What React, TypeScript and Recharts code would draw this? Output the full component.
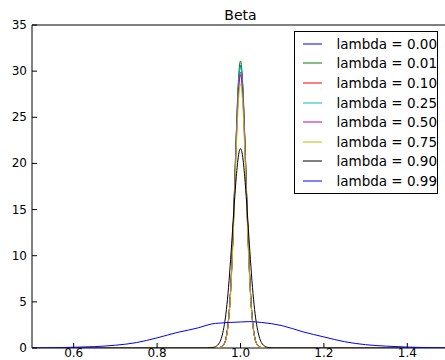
import React from 'react';
import { LineChart, Line, XAxis, YAxis, ReferenceArea, Legend } from 'recharts';

// shared x grid for the narrow densities
const NARROW_X = [
  0.5, 0.92, 0.925, 0.93, 0.935, 0.94, 0.945, 0.95, 0.955, 0.96, 0.965, 0.97, 0.975, 0.98, 0.985, 0.99, 0.995,
  1.0, 1.005, 1.01, 1.015, 1.02, 1.025, 1.03, 1.035, 1.04, 1.045, 1.05, 1.055, 1.06, 1.065, 1.07, 1.075, 1.08, 1.5,
];

const L000 = [0, 0, 0, 0, 0, 0.01, 0.03, 0.06, 0.13, 0.36, 0.98, 2.45, 5.2, 9.9, 16.2, 23.1, 28.5, 30.6, 28.6, 23.0, 16.1, 9.8, 5.2, 2.4, 0.97, 0.35, 0.12, 0.05, 0.02, 0.01, 0, 0, 0, 0, 0];
const L001 = [0, 0, 0, 0, 0, 0.01, 0.03, 0.05, 0.12, 0.35, 0.96, 2.45, 5.25, 10.0, 16.4, 23.4, 29.0, 31.1, 28.9, 23.3, 16.4, 10.0, 5.2, 2.4, 0.95, 0.34, 0.12, 0.05, 0.02, 0.01, 0, 0, 0, 0, 0];
const L010 = [0, 0, 0, 0, 0, 0.01, 0.03, 0.06, 0.13, 0.37, 1.0, 2.5, 5.2, 9.8, 15.9, 22.6, 27.9, 29.9, 27.9, 22.7, 16.0, 9.8, 5.2, 2.45, 0.98, 0.36, 0.13, 0.05, 0.02, 0.01, 0, 0, 0, 0, 0];
const L025 = [0, 0, 0, 0, 0, 0.01, 0.03, 0.05, 0.12, 0.35, 0.97, 2.42, 5.2, 9.9, 16.2, 23.0, 28.5, 30.5, 28.4, 23.0, 16.2, 9.9, 5.15, 2.4, 0.96, 0.35, 0.12, 0.05, 0.02, 0.01, 0, 0, 0, 0, 0];
const L050 = [0, 0, 0, 0, 0, 0.01, 0.03, 0.06, 0.14, 0.38, 1.02, 2.5, 5.2, 9.7, 15.8, 22.4, 27.6, 29.6, 27.6, 22.4, 15.8, 9.7, 5.1, 2.4, 0.97, 0.36, 0.13, 0.05, 0.02, 0.01, 0, 0, 0, 0, 0];
const L075 = [0, 0, 0, 0, 0, 0.01, 0.02, 0.05, 0.11, 0.32, 0.9, 2.3, 4.9, 9.3, 15.2, 21.6, 26.7, 28.6, 26.7, 21.6, 15.2, 9.3, 4.9, 2.3, 0.92, 0.33, 0.11, 0.05, 0.02, 0.01, 0, 0, 0, 0, 0];
const L090 = [0, 0.01, 0.03, 0.04, 0.08, 0.14, 0.3, 0.6, 1.2, 2.2, 3.7, 5.9, 8.8, 12.1, 15.6, 18.6, 20.8, 21.6, 20.8, 18.6, 15.6, 12.1, 8.8, 5.9, 3.7, 2.2, 1.2, 0.6, 0.3, 0.14, 0.08, 0.04, 0.02, 0.01, 0];

// wide density (lambda = 0.99)
const WIDE_X = [0.5, 0.55, 0.6, 0.65, 0.7, 0.75, 0.8, 0.85, 0.9, 0.93, 0.95, 1.0, 1.02, 1.05, 1.1, 1.15, 1.2, 1.25, 1.3, 1.35, 1.4, 1.45, 1.5];
const L099 = [0.0, 0.02, 0.08, 0.15, 0.3, 0.58, 1.1, 1.7, 2.2, 2.6, 2.7, 2.82, 2.86, 2.77, 2.42, 1.75, 1.2, 0.68, 0.36, 0.2, 0.1, 0.04, 0.01];

const X_TICKS = [0.6, 0.8, 1.0, 1.2, 1.4];
const Y_TICKS = [0, 5, 10, 15, 20, 25, 30, 35];

const zip = (xs: number[], ys: number[]) => xs.map((x, i) => ({ x, y: ys[i] }));

const SERIES = [
  { name: 'lambda = 0.00', color: '#0000ff', data: zip(NARROW_X, L000) },
  { name: 'lambda = 0.01', color: '#008000', data: zip(NARROW_X, L001) },
  { name: 'lambda = 0.10', color: '#ff0000', data: zip(NARROW_X, L010) },
  { name: 'lambda = 0.25', color: '#00bfbf', data: zip(NARROW_X, L025) },
  { name: 'lambda = 0.50', color: '#bf00bf', data: zip(NARROW_X, L050) },
  { name: 'lambda = 0.75', color: '#bfbf00', data: zip(NARROW_X, L075) },
  { name: 'lambda = 0.90', color: '#000000', data: zip(NARROW_X, L090) },
  { name: 'lambda = 0.99', color: '#0000ff', data: zip(WIDE_X, L099) },
];

const FONT = '"DejaVu Sans", sans-serif';

const BottomTick = (props: any) => {
  const { x, y, payload } = props;
  return (
    <g>
      <line x1={x} x2={x} y1={y} y2={y - 5} stroke="#000" />
      <text x={x} y={y + 9} textAnchor="middle" fontSize={12} fill="#000" fontFamily={FONT}>
        {Number(payload.value).toFixed(1)}
      </text>
    </g>
  );
};

const TopTick = (props: any) => {
  const { x, y } = props;
  return <line x1={x} x2={x} y1={y} y2={y + 5} stroke="#000" />;
};

const LeftTick = (props: any) => {
  const { x, y, payload } = props;
  return (
    <g>
      <line x1={x} x2={x + 5} y1={y} y2={y} stroke="#000" />
      <text x={x - 5} y={y + 4} textAnchor="end" fontSize={12} fill="#000" fontFamily={FONT}>
        {payload.value}
      </text>
    </g>
  );
};

const renderLegend = () => (
  <div
    style={{
      border: '1px solid #000',
      background: '#fff',
      padding: '2px 0 2px 0',
      fontFamily: FONT,
      fontSize: 13.5,
      boxSizing: 'border-box',
      width: 144,
    }}
  >
    {SERIES.map((s) => (
      <div key={s.name} style={{ display: 'flex', alignItems: 'center', height: 19.6 }}>
        <svg width={20} height={6} style={{ marginLeft: 8, marginRight: 14, display: 'block' }}>
          <line x1={0} x2={20} y1={3} y2={3} stroke={s.color} strokeWidth={1} />
        </svg>
        <span style={{ color: '#000', whiteSpace: 'nowrap' }}>{s.name}</span>
      </div>
    ))}
  </div>
);

export default function App() {
  return (
    <div style={{ position: 'fixed', left: 0, top: 0, width: 445, height: 360, overflow: 'hidden', background: '#fff' }}>
      <LineChart width={449} height={360} margin={{ top: 25, right: 0, bottom: 0, left: 8 }}>
        <XAxis
          dataKey="x"
          type="number"
          domain={[0.5, 1.5]}
          ticks={X_TICKS}
          interval={0}
          height={12}
          tickSize={0}
          tickMargin={0}
          axisLine={false}
          tickLine={false}
          tick={<BottomTick />}
          allowDataOverflow
        />
        <XAxis
          xAxisId="top"
          orientation="top"
          dataKey="x"
          type="number"
          domain={[0.5, 1.5]}
          ticks={X_TICKS}
          interval={0}
          height={0}
          tickSize={0}
          tickMargin={0}
          axisLine={false}
          tickLine={false}
          tick={<TopTick />}
          allowDataOverflow
        />
        <YAxis
          type="number"
          domain={[0, 35]}
          ticks={Y_TICKS}
          interval={0}
          width={24}
          tickSize={0}
          tickMargin={0}
          axisLine={false}
          tickLine={false}
          tick={<LeftTick />}
          allowDataOverflow
        />
        <ReferenceArea x1={0.5} x2={1.5} y1={0} y2={35} fill="none" stroke="#000" strokeWidth={1} />
        {SERIES.map((s) => (
          <Line
            key={s.name}
            data={s.data}
            dataKey="y"
            name={s.name}
            type="monotone"
            stroke={s.color}
            strokeWidth={1}
            dot={false}
            activeDot={false}
            isAnimationActive={false}
          />
        ))}
        <Legend
          layout="vertical"
          align="center"
          verticalAlign="middle"
          content={renderLegend}
          wrapperStyle={{ position: 'absolute', left: 294, top: 31, width: 144 }}
        />
        <text x={240.5} y={20} textAnchor="middle" fontSize={14} fill="#000" fontFamily={FONT}>
          Beta
        </text>
      </LineChart>
    </div>
  );
}
